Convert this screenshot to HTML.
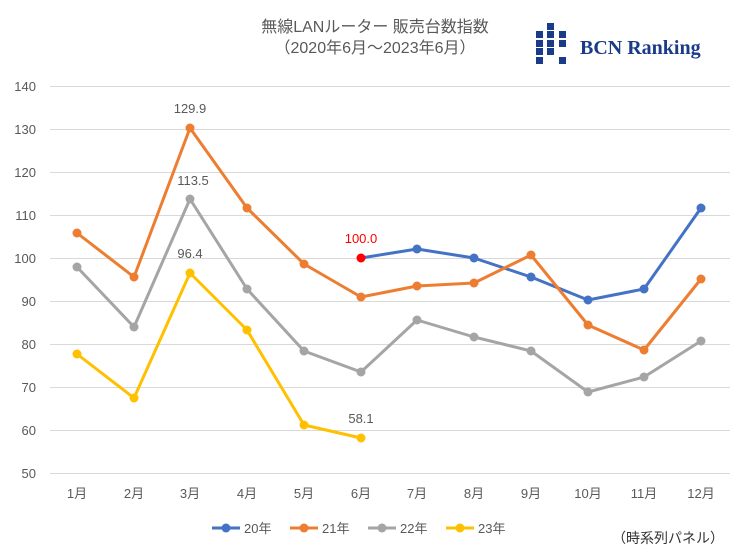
<!DOCTYPE html>
<html><head><meta charset="utf-8"><style>
body{margin:0;background:#fff;}
svg text{font-family:"Liberation Sans","Noto Sans CJK JP",sans-serif;}
</style></head><body>
<svg width="750" height="552" viewBox="0 0 750 552" xmlns="http://www.w3.org/2000/svg">
<rect width="750" height="552" fill="#fff"/>
<text x="375" y="32" font-size="16" fill="#595959" text-anchor="middle">無線LANルーター 販売台数指数</text>
<text x="375" y="53" font-size="16" fill="#595959" text-anchor="middle">（2020年6月～2023年6月）</text>
<g fill="#1a3a8a">
<rect x="536" y="31" width="7" height="7"/><rect x="536" y="40" width="7" height="7"/><rect x="536" y="48" width="7" height="7"/><rect x="536" y="57" width="7" height="7"/>
<rect x="547" y="23" width="7" height="7"/><rect x="547" y="31" width="7" height="7"/><rect x="547" y="40" width="7" height="7"/><rect x="547" y="48" width="7" height="7"/>
<rect x="559" y="31" width="7" height="7"/><rect x="559" y="40" width="7" height="7"/><rect x="559" y="57" width="7" height="7"/>
</g>
<text x="580" y="54" font-size="20" font-weight="bold" fill="#1a3a8a" style="font-family:'Liberation Serif',serif">BCN Ranking</text>
<g stroke="#d9d9d9" stroke-width="1">
<line x1="50" x2="730" y1="473.5" y2="473.5"/><line x1="50" x2="730" y1="430.5" y2="430.5"/><line x1="50" x2="730" y1="387.5" y2="387.5"/><line x1="50" x2="730" y1="344.5" y2="344.5"/><line x1="50" x2="730" y1="301.5" y2="301.5"/><line x1="50" x2="730" y1="258.5" y2="258.5"/><line x1="50" x2="730" y1="215.5" y2="215.5"/><line x1="50" x2="730" y1="172.5" y2="172.5"/><line x1="50" x2="730" y1="129.5" y2="129.5"/><line x1="50" x2="730" y1="86.5" y2="86.5"/>
</g>
<g font-size="13" fill="#595959" text-anchor="end">
<text x="36" y="478">50</text><text x="36" y="435">60</text><text x="36" y="392">70</text><text x="36" y="349">80</text><text x="36" y="306">90</text><text x="36" y="263">100</text><text x="36" y="220">110</text><text x="36" y="177">120</text><text x="36" y="134">130</text><text x="36" y="91">140</text>
</g>
<g font-size="13" fill="#595959" text-anchor="middle">
<text x="77" y="498">1月</text><text x="134" y="498">2月</text><text x="190" y="498">3月</text><text x="247" y="498">4月</text><text x="304" y="498">5月</text><text x="361" y="498">6月</text><text x="417" y="498">7月</text><text x="474" y="498">8月</text><text x="531" y="498">9月</text><text x="588" y="498">10月</text><text x="644" y="498">11月</text><text x="701" y="498">12月</text>
</g>
<g fill="none" stroke-width="3" stroke-linejoin="round">
<polyline stroke="#4472C4" points="361,258 417,249 474,258 531,277 588,300 644,289 701,208"/>
<polyline stroke="#ED7D31" points="77,233 134,277 190,128 247,208 304,264 361,297 417,286 474,283 531,255 588,325 644,350 701,279"/>
<polyline stroke="#A5A5A5" points="77,267 134,327 190,199 247,289 304,351 361,372 417,320 474,337 531,351 588,392 644,377 701,341"/>
<polyline stroke="#FFC000" points="77,354 134,398 190,273 247,330 304,425 361,438"/>
</g>
<g fill="#4472C4"><circle cx="417" cy="249" r="4.5"/><circle cx="474" cy="258" r="4.5"/><circle cx="531" cy="277" r="4.5"/><circle cx="588" cy="300" r="4.5"/><circle cx="644" cy="289" r="4.5"/><circle cx="701" cy="208" r="4.5"/></g>
<g fill="#ED7D31"><circle cx="77" cy="233" r="4.5"/><circle cx="134" cy="277" r="4.5"/><circle cx="190" cy="128" r="4.5"/><circle cx="247" cy="208" r="4.5"/><circle cx="304" cy="264" r="4.5"/><circle cx="361" cy="297" r="4.5"/><circle cx="417" cy="286" r="4.5"/><circle cx="474" cy="283" r="4.5"/><circle cx="531" cy="255" r="4.5"/><circle cx="588" cy="325" r="4.5"/><circle cx="644" cy="350" r="4.5"/><circle cx="701" cy="279" r="4.5"/></g>
<g fill="#A5A5A5"><circle cx="77" cy="267" r="4.5"/><circle cx="134" cy="327" r="4.5"/><circle cx="190" cy="199" r="4.5"/><circle cx="247" cy="289" r="4.5"/><circle cx="304" cy="351" r="4.5"/><circle cx="361" cy="372" r="4.5"/><circle cx="417" cy="320" r="4.5"/><circle cx="474" cy="337" r="4.5"/><circle cx="531" cy="351" r="4.5"/><circle cx="588" cy="392" r="4.5"/><circle cx="644" cy="377" r="4.5"/><circle cx="701" cy="341" r="4.5"/></g>
<g fill="#FFC000"><circle cx="77" cy="354" r="4.5"/><circle cx="134" cy="398" r="4.5"/><circle cx="190" cy="273" r="4.5"/><circle cx="247" cy="330" r="4.5"/><circle cx="304" cy="425" r="4.5"/><circle cx="361" cy="438" r="4.5"/></g>
<circle cx="361" cy="258" r="4.5" fill="#FF0000"/>
<g font-size="13" text-anchor="middle">
<text x="361" y="243" fill="#FF0000">100.0</text>
<text x="190" y="113" fill="#595959">129.9</text>
<text x="193" y="185" fill="#595959">113.5</text>
<text x="190" y="258" fill="#595959">96.4</text>
<text x="361" y="423" fill="#595959">58.1</text>
</g>
<g font-size="13" fill="#595959">
<line x1="212" x2="240" y1="528" y2="528" stroke="#4472C4" stroke-width="3"/><circle cx="226" cy="528" r="4.5" fill="#4472C4"/><text x="244" y="533">20年</text>
<line x1="290" x2="318" y1="528" y2="528" stroke="#ED7D31" stroke-width="3"/><circle cx="304" cy="528" r="4.5" fill="#ED7D31"/><text x="322" y="533">21年</text>
<line x1="368" x2="396" y1="528" y2="528" stroke="#A5A5A5" stroke-width="3"/><circle cx="382" cy="528" r="4.5" fill="#A5A5A5"/><text x="400" y="533">22年</text>
<line x1="446" x2="474" y1="528" y2="528" stroke="#FFC000" stroke-width="3"/><circle cx="460" cy="528" r="4.5" fill="#FFC000"/><text x="478" y="533">23年</text>
<text x="612" y="543" font-size="14" fill="#333">（時系列パネル）</text>
</g>
</svg>
</body></html>
